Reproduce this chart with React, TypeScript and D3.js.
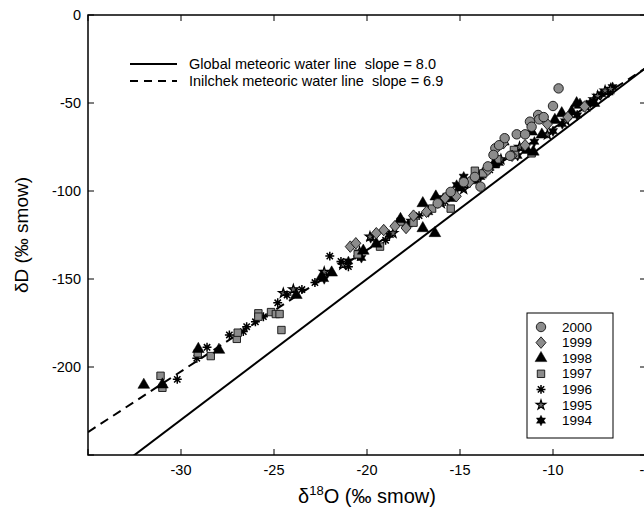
import * as d3 from "d3";

// δ18O, δD pairs, one array per year
const y2000: [number, number][] = [
  [-9.7, -41.7], [-10.0, -51.7], [-10.8, -56.8], [-10.74, -59.3], [-11.24, -60.6],
  [-11.15, -63.5], [-11.95, -67.8], [-11.5, -67.8], [-13.1, -75.7], [-13.2, -79.5],
  [-12.3, -80], [-12.6, -70], [-10.5, -58], [-13.9, -97.5], [-14.2, -92],
  [-14.8, -95], [-15.5, -100.5], [-13.5, -86], [-16.2, -107], [-12.9, -74],
];
const y1999: [number, number][] = [
  [-20.9, -131.6], [-20.6, -129.7], [-19.1, -122.2], [-17.9, -121], [-16.8, -111.8],
  [-18.5, -120], [-17.5, -114], [-15.2, -103], [-14.5, -95], [-13.5, -88],
  [-12.67, -72.9], [-12.2, -80], [-11.5, -74], [-10.3, -62], [-9.2, -58],
  [-8.3, -52], [-15.8, -104], [-19.5, -124],
];
const y1998: [number, number][] = [
  [-32.0, -210.2], [-31.0, -210], [-29.07, -189.8], [-27.96, -190.3], [-23.8, -159.1],
  [-22.44, -148.7], [-21.9, -146.4], [-20.2, -134], [-19.5, -130], [-17, -121.2],
  [-16.35, -124], [-16.3, -103.2], [-17, -107], [-18.2, -116], [-15.5, -104],
  [-14.2, -94], [-12.67, -72], [-11.4, -76.7], [-11.06, -77.7], [-11.15, -66.3],
  [-9.9, -59.7], [-9.53, -55.9], [-9.0, -54.9], [-8.73, -50.2], [-8.55, -51.1],
  [-7.8, -50], [-13.2, -85], [-10.6, -68], [-15, -98],
];
const y1997: [number, number][] = [
  [-31.1, -205], [-31.0, -211.8], [-29.1, -192.2], [-28.4, -193.8], [-27.0, -184],
  [-26.95, -180.5], [-25.84, -169.5], [-25.84, -171.4], [-25.16, -168.8], [-24.9, -169.9],
  [-24.7, -169.9], [-24.6, -179], [-19.3, -131.6], [-18.2, -117.4], [-15.5, -110],
  [-14.2, -88.5], [-13.75, -90], [-12.1, -76.7], [-12.04, -79.5], [-11.15, -78.6],
  [-17.5, -118], [-20.5, -136], [-13, -82], [-16.5, -110],
];
const y1996: [number, number][] = [
  [-30.2, -207], [-29.15, -195], [-28.6, -188.8], [-27.4, -181.8], [-26.65, -179.9],
  [-26.47, -177.1], [-26.0, -174.3], [-25.57, -171.4], [-24.8, -163.5], [-24.3, -159.1],
  [-22.0, -137], [-22.8, -152], [-21.4, -140], [-20.5, -137], [-19, -128],
  [-17.2, -114], [-15.8, -106], [-14.6, -96], [-13.4, -88], [-23.5, -156], [-21.0, -143],
];
const y1995: [number, number][] = [
  [-23.96, -155.9], [-20.4, -134.5], [-19.84, -126], [-21.3, -142], [-22.3, -146],
  [-18.6, -124], [-17.6, -117], [-16, -107], [-14.8, -99], [-13.8, -90],
  [-12.8, -82], [-11.8, -75], [-10.3, -68], [-9.3, -60], [-8.2, -52],
  [-7.6, -46], [-7.2, -43], [-6.9, -42], [-7.8, -48], [-24.5, -158],
];
const y1994: [number, number][] = [
  [-19.8, -126.7], [-14.8, -91.9], [-15.18, -96.6], [-21.0, -140], [-20.3, -138],
  [-18.8, -125], [-17.8, -119], [-16.7, -112], [-15.9, -104], [-13.9, -92],
  [-12.9, -84], [-11.9, -80], [-11, -72], [-10, -66], [-9.5, -62],
  [-8.7, -57], [-8.0, -50], [-7.4, -45], [-7.0, -44], [-6.8, -41], [-22.3, -150],
];

const years = ["2000", "1999", "1998", "1997", "1996", "1995", "1994"];
const xTicks = [-35, -30, -25, -20, -15, -10, -5];
const xTickLabels = ["", "-30", "-25", "-20", "-15", "-10", "-5"];
const yTicks = [0, -50, -100, -150, -200, -250];
const yTickLabels = ["0", "-50", "-100", "-150", "-200", ""];
// meteoric water lines: slope, intercept
const gmwl = { slope: 8.0, intercept: 10 };
const imwl = { slope: 6.9, intercept: 4.5 };

const W = 644;
const H = 509;
const m = { left: 88, top: 15, right: 646, bottom: 455 };
const font = "'Liberation Sans', Arial, Helvetica, sans-serif";

const x = d3.scaleLinear().domain([-35, -5]).range([m.left, m.right]);
const y = d3.scaleLinear().domain([-250, 0]).range([m.bottom, m.top]);

// custom symbols
const asterisk = {
  draw(ctx: any, size: number) {
    const r = Math.sqrt(size) / 2;
    for (let i = 0; i < 4; i++) {
      const a = (i * Math.PI) / 4;
      ctx.moveTo(r * Math.cos(a), r * Math.sin(a));
      ctx.lineTo(-r * Math.cos(a), -r * Math.sin(a));
    }
  },
};
const hexagram = {
  draw(ctx: any, size: number) {
    const R = Math.sqrt(size) / 2;
    const r = R * 0.55;
    for (let i = 0; i < 12; i++) {
      const a = -Math.PI / 2 + (i * Math.PI) / 6;
      const rr = i % 2 === 0 ? R : r;
      if (i === 0) ctx.moveTo(rr * Math.cos(a), rr * Math.sin(a));
      else ctx.lineTo(rr * Math.cos(a), rr * Math.sin(a));
    }
    ctx.closePath();
  },
};
const diamond = {
  draw(ctx: any, size: number) {
    const rx = Math.sqrt(size) / 2;
    const ry = rx * 1.15;
    ctx.moveTo(0, -ry);
    ctx.lineTo(rx, 0);
    ctx.lineTo(0, ry);
    ctx.lineTo(-rx, 0);
    ctx.closePath();
  },
};

const gray = "#8c8c8c";
const styles: Record<string, { type: any; size: number; fill: string; stroke: string; sw: number }> = {
  "2000": { type: d3.symbolCircle, size: 70, fill: gray, stroke: "#111", sw: 0.9 },
  "1999": { type: diamond, size: 100, fill: gray, stroke: "#111", sw: 0.9 },
  "1998": { type: d3.symbolTriangle, size: 60, fill: "#000", stroke: "#000", sw: 0.5 },
  "1997": { type: d3.symbolSquare, size: 55, fill: gray, stroke: "#111", sw: 0.9 },
  "1996": { type: asterisk, size: 80, fill: "none", stroke: "#000", sw: 1.5 },
  "1995": { type: d3.symbolStar, size: 28, fill: "#666", stroke: "#000", sw: 1.2 },
  "1994": { type: hexagram, size: 110, fill: "#000", stroke: "#000", sw: 0.5 },
};
const seriesByYear: Record<string, [number, number][]> = {
  "2000": y2000, "1999": y1999, "1998": y1998, "1997": y1997,
  "1996": y1996, "1995": y1995, "1994": y1994,
};
const drawOrder = ["1994", "1995", "1996", "1997", "1998", "1999", "2000"];

const sym = (yr: string) => d3.symbol().type(styles[yr].type).size(styles[yr].size)()!;

function lineD(l: { slope: number; intercept: number }, x0: number, x1: number) {
  return d3.line<number>()
    .x((d) => x(d))
    .y((d) => y(l.slope * d + l.intercept))([x0, x1])!;
}

export default function App() {
  return (
    <svg width={W} height={H} style={{ position: "absolute", left: 0, top: 0, background: "#fff" }}
      fontFamily={font}>
      <defs>
        <clipPath id="plot">
          <rect x={m.left} y={m.top} width={m.right - m.left} height={m.bottom - m.top} />
        </clipPath>
      </defs>

      {/* water lines */}
      <g clipPath="url(#plot)" fill="none" stroke="#000" strokeWidth={2}>
        <path d={lineD(gmwl, -35, -5)} />
        <path d={lineD(imwl, -35, -5)} strokeDasharray="9,6" />
      </g>

      {/* points */}
      <g clipPath="url(#plot)">
        {drawOrder.map((yr) =>
          seriesByYear[yr].map((p, i) => (
            <path key={yr + i} d={sym(yr)} transform={`translate(${x(p[0])},${y(p[1])})`}
              fill={styles[yr].fill} stroke={styles[yr].stroke} strokeWidth={styles[yr].sw} />
          ))
        )}
      </g>

      {/* frame */}
      <rect x={m.left} y={m.top} width={m.right - m.left} height={m.bottom - m.top}
        fill="none" stroke="#000" strokeWidth={1.5} />

      {/* ticks */}
      <g stroke="#000" strokeWidth={1}>
        {xTicks.map((t) => (
          <g key={t}>
            <line x1={x(t)} x2={x(t)} y1={m.bottom} y2={m.bottom - 6} />
            <line x1={x(t)} x2={x(t)} y1={m.top} y2={m.top + 6} />
          </g>
        ))}
        {yTicks.map((t) => (
          <g key={t}>
            <line x1={m.left} x2={m.left + 6} y1={y(t)} y2={y(t)} />
            <line x1={m.right} x2={m.right - 6} y1={y(t)} y2={y(t)} />
          </g>
        ))}
      </g>
      <g fontSize={14.5} fill="#000">
        {xTicks.map((t, i) => (
          <text key={t} x={x(t)} y={m.bottom + 20} textAnchor="middle">{xTickLabels[i]}</text>
        ))}
        {yTicks.map((t, i) => (
          <text key={t} x={m.left - 7} y={y(t) + 5} textAnchor="end">{yTickLabels[i]}</text>
        ))}
      </g>

      {/* axis titles */}
      <text x={(m.left + m.right) / 2} y={503} textAnchor="middle" fontSize={20}>
        δ<tspan fontSize={13} dy={-8}>18</tspan><tspan dy={8}>O (‰ smow)</tspan>
      </text>
      <text transform={`translate(28,${(m.top + m.bottom) / 2}) rotate(-90)`} textAnchor="middle" fontSize={19}>
        δD (‰ smow)
      </text>

      {/* line legend */}
      <g fontSize={14.5}>
        <line x1={130} x2={177} y1={64} y2={64} stroke="#000" strokeWidth={2} />
        <text x={189} y={69} xmlSpace="preserve">{"Global meteoric water line  slope = 8.0"}</text>
        <line x1={130} x2={177} y1={81} y2={81} stroke="#000" strokeWidth={2} strokeDasharray="8,6" />
        <text x={189} y={86} xmlSpace="preserve">{"Inilchek meteoric water line  slope = 6.9"}</text>
      </g>

      {/* year legend */}
      <rect x={527} y={313} width={86} height={125} fill="#fff" stroke="#000" strokeWidth={1} />
      {years.map((yr, i) => {
        const cy = 327 + i * 15.6;
        return (
          <g key={yr}>
            <path d={sym(yr)} transform={`translate(541,${cy})`} fill={styles[yr].fill}
              stroke={styles[yr].stroke} strokeWidth={styles[yr].sw} />
            <text x={562} y={cy + 4.5} fontSize={13.5}>{yr}</text>
          </g>
        );
      })}
    </svg>
  );
}
